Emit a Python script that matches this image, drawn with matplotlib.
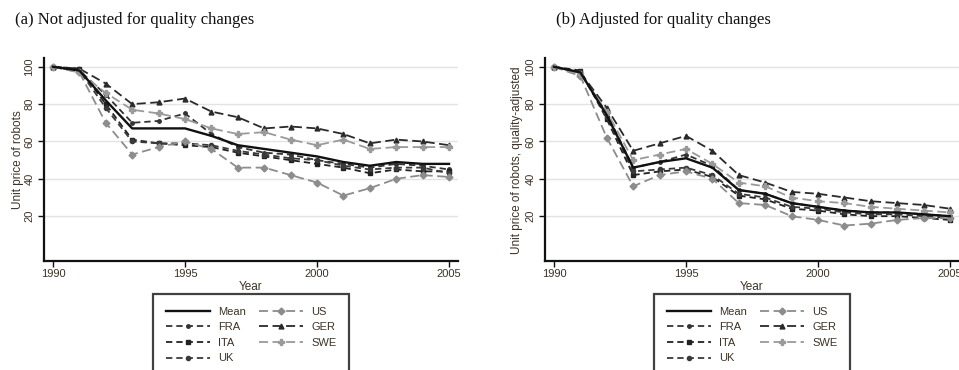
import matplotlib
matplotlib.use("Agg")
import matplotlib.pyplot as plt

years = list(range(1990, 2006))
series_names = ["Mean", "FRA", "ITA", "UK", "US", "GER", "SWE"]

# Panel (a): not adjusted
a_mean = [100, 98, 82, 67, 67, 67, 63, 58, 56, 54, 52, 49, 47, 49, 48, 48]
a_fra = [100, 98, 85, 70, 71, 75, 64, 57, 54, 53, 50, 48, 46, 48, 47, 45]
a_ita = [100, 99, 80, 61, 59, 58, 57, 54, 52, 50, 48, 46, 43, 45, 44, 44]
a_uk = [100, 98, 78, 60, 59, 59, 58, 55, 53, 51, 50, 47, 45, 46, 46, 43]
a_us = [100, 97, 70, 53, 57, 60, 56, 46, 46, 42, 38, 31, 35, 40, 42, 41]
a_ger = [100, 99, 91, 80, 81, 83, 76, 73, 67, 68, 67, 64, 59, 61, 60, 58]
a_swe = [100, 97, 86, 77, 75, 72, 67, 64, 65, 61, 58, 61, 56, 57, 57, 57]

# Panel (b): quality-adjusted
b_mean = [100, 97, 74, 46, 49, 51, 46, 34, 32, 27, 25, 23, 22, 22, 21, 20]
b_fra = [100, 97, 75, 46, 49, 53, 47, 34, 32, 27, 25, 23, 22, 22, 21, 20]
b_ita = [100, 98, 72, 42, 44, 45, 41, 31, 29, 24, 23, 21, 20, 20, 19, 18]
b_uk = [100, 97, 73, 44, 45, 46, 42, 32, 30, 25, 24, 22, 21, 21, 20, 19]
b_us = [100, 95, 62, 36, 42, 44, 40, 27, 26, 20, 18, 15, 16, 18, 19, 19]
b_ger = [100, 97, 78, 55, 59, 63, 55, 42, 38, 33, 32, 30, 28, 27, 26, 24]
b_swe = [100, 96, 76, 50, 53, 56, 48, 38, 36, 30, 28, 27, 25, 24, 23, 22]

panel_titles = ["(a) Not adjusted for quality changes", "(b) Adjusted for quality changes"]
ylabels = ["Unit price of robots", "Unit price of robots, quality-adjusted"]
xlabel = "Year"
yticks = [20, 40, 60, 80, 100]
xticks = [1990, 1995, 2000, 2005]

styles = {
    "Mean": dict(color="#111111", marker=None, ms=0, lw=1.7, dashes=None),
    "FRA": dict(color="#333333", marker="o", ms=2.5, lw=1.3, dashes=(3.5, 2.2)),
    "ITA": dict(color="#222222", marker="s", ms=3, lw=1.3, dashes=(3.5, 2.2)),
    "UK": dict(color="#3a3a3a", marker="o", ms=3, lw=1.3, dashes=(3.5, 2.2)),
    "US": dict(color="#8c8c8c", marker="D", ms=3.5, lw=1.3, dashes=(5, 2.5)),
    "GER": dict(color="#2a2a2a", marker="^", ms=3.5, lw=1.3, dashes=(5, 2.5)),
    "SWE": dict(color="#9a9a9a", marker="P", ms=4, lw=1.3, dashes=(5, 2.5)),
}

label_color = "#3d3226"
W, H = 959, 370
fig = plt.figure(figsize=(W / 100, H / 100), dpi=100)

panels = [
    dict(x0=44, data=[a_mean, a_fra, a_ita, a_uk, a_us, a_ger, a_swe], ylx=18, tx=15),
    dict(x0=545, data=[b_mean, b_fra, b_ita, b_uk, b_us, b_ger, b_swe], ylx=517, tx=556),
]

ax_w = 414
for i, p in enumerate(panels):
    ax = fig.add_axes([p["x0"] / W, 1 - 261 / H, ax_w / W, (261 - 58) / H])
    ax.set_xlim(1989.66, 2005.34)
    ax.set_ylim(-4, 104.7)
    for yt in yticks:
        ax.axhline(yt, color="#e3e3e3", lw=1.0, zorder=0)
    handles = []
    for name, vals in zip(series_names, p["data"]):
        st = styles[name]
        kw = dict(color=st["color"], lw=st["lw"], marker=st["marker"], markersize=st["ms"],
                  label=name, zorder=3 if name == "Mean" else 2)
        if st["dashes"]:
            kw["dashes"] = st["dashes"]
        (ln,) = ax.plot(years, vals, **kw)
        handles.append(ln)
    for s in ["top", "right"]:
        ax.spines[s].set_visible(False)
    for s in ["left", "bottom"]:
        ax.spines[s].set_linewidth(1.6)
        ax.spines[s].set_color("#111111")
    ax.set_xticks(xticks)
    ax.set_yticks(yticks)
    ax.tick_params(axis="both", direction="out", length=4, width=1.0, color="#111111",
                   labelsize=8, labelcolor=label_color, pad=2)
    ax.tick_params(axis="y", labelrotation=90, pad=3)
    for lab in ax.get_yticklabels():
        lab.set_va("center")
        lab.set_fontfamily("Liberation Sans")
    for lab in ax.get_xticklabels():
        lab.set_fontfamily("Liberation Sans")
    cx = (p["x0"] + ax_w / 2) / W
    fig.text(p["ylx"] / W, 1 - 160 / H, ylabels[i], rotation=90, ha="center", va="center",
             fontsize=8.5, color=label_color, family="Liberation Sans")
    fig.text(cx, 1 - 287 / H, xlabel, ha="center", va="center", fontsize=8.5,
             color=label_color, family="Liberation Sans")
    fig.text(p["tx"] / W, 1 - 20 / H, panel_titles[i], ha="left", va="center",
             fontsize=12, family="Liberation Serif", color="#111111")
    leg = fig.legend(handles=handles, labels=series_names, ncol=2, loc="upper center",
                     bbox_to_anchor=(cx, 1 - 294 / H), frameon=True, fancybox=False,
                     edgecolor="#111111", handlelength=4.0, columnspacing=1.2,
                     labelspacing=0.5, borderpad=1.15, handletextpad=0.7, borderaxespad=0,
                     prop={"family": "Liberation Sans", "size": 8})
    leg.get_frame().set_linewidth(1.6)
    for t in leg.get_texts():
        t.set_color(label_color)

fig.savefig("out.png", dpi=100)
